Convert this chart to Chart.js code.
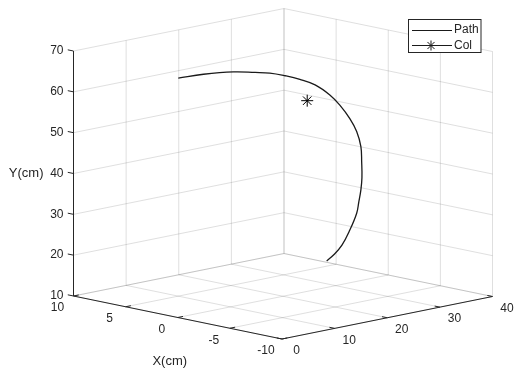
<!DOCTYPE html>
<html>
<head>
<meta charset="utf-8">
<script src="https://cdn.jsdelivr.net/npm/chart.js@4"></script>
<style>
  html, body { margin: 0; padding: 0; background: #fff; }
  #wrap { width: 516px; height: 371px; position: relative; }
</style>
</head>
<body>
<div id="wrap"><canvas id="graph"></canvas></div>
<script>
// axis ticks
const xTicks = [10, 5, 0, -5, -10];
const yTicks = [10, 20, 30, 40, 50, 60, 70];
const zTicks = [0, 10, 20, 30, 40];

// path (cm)
const pathX = [0, 0, 0, 0, 0, 0, 0, 0, 0, 0, 0, 0, 0, 0, 0, 0, 0, 0, 0, 0, 0, 0];
const pathZ = [0.1, 4.9, 10.6, 14.7, 17.5, 20.4, 23.2, 26.1, 28.9, 30.8, 32.7, 34.0, 34.8, 34.95, 35.0, 34.8, 34.4, 34.0, 32.7, 31.2, 29.6, 28.3];
const pathY = [68.6, 68.3, 67.4, 66.2, 65.3, 63.9, 62.3, 60.2, 57.0, 54.0, 50.2, 46.7, 42.8, 39.0, 35.1, 32.2, 29.3, 26.7, 22.9, 19.6, 17.6, 16.5];

// collision point
const colX = [0];
const colY = [56.7];
const colZ = [24.6];

// view of the 3d box (orthographic)
function proj(X, Y, Z) {
    return {
        x: 73.5 + (10 - X) * 10.425 + Z * 5.2625,
        y: 296 + (10 - X) * 2.15 - Z * 1.0625 - (Y - 10) * 4.083
    };
}

const axisColor = '#262626';
const gridColor = 'rgba(38,38,38,0.15)';
const font = '"Liberation Sans", Arial, sans-serif';

const box3d = {
    id: 'box3d',
    beforeDatasetsDraw(chart) {
        const ctx = chart.ctx;
        const sx = chart.scales.x, sy = chart.scales.y;
        const pix = (X, Y, Z) => {
            const p = proj(X, Y, Z);
            return [sx.getPixelForValue(p.x), sy.getPixelForValue(p.y)];
        };
        const seg = (a, b) => {
            const p = pix(...a), q = pix(...b);
            ctx.beginPath();
            ctx.moveTo(p[0], p[1]);
            ctx.lineTo(q[0], q[1]);
            ctx.stroke();
        };
        ctx.save();
        ctx.strokeStyle = gridColor;
        ctx.lineWidth = 1;
        // back left wall (X = 10)
        zTicks.forEach(z => seg([10, 10, z], [10, 70, z]));
        yTicks.forEach(y => seg([10, y, 0], [10, y, 40]));
        // back right wall (Z = 40)
        xTicks.forEach(x => seg([x, 10, 40], [x, 70, 40]));
        yTicks.forEach(y => seg([10, y, 40], [-10, y, 40]));
        // floor
        xTicks.forEach(x => seg([x, 10, 0], [x, 10, 40]));
        zTicks.forEach(z => seg([10, 10, z], [-10, 10, z]));

        // axes
        ctx.strokeStyle = axisColor;
        seg([10, 10, 0], [10, 70, 0]);
        seg([10, 10, 0], [-10, 10, 0]);
        seg([-10, 10, 0], [-10, 10, 40]);
        // tick marks
        yTicks.forEach(y => seg([10, y, 0], [10.55, y, 0]));
        xTicks.forEach(x => seg([x, 10, 0], [x, 10, 1]));
        zTicks.forEach(z => seg([-10, 10, z], [-9.5, 10, z]));

        // tick labels
        ctx.fillStyle = axisColor;
        ctx.font = '12px ' + font;
        ctx.textBaseline = 'middle';
        ctx.textAlign = 'right';
        yTicks.forEach(y => {
            const p = pix(10, y, 0);
            ctx.fillText(String(y), p[0] - 10, p[1]);
        });
        ctx.textAlign = 'center';
        xTicks.forEach(x => {
            const p = pix(x, 10, 0);
            ctx.fillText(String(x), p[0] - 16, p[1] + 12);
        });
        zTicks.forEach(z => {
            const p = pix(-10, 10, z);
            ctx.fillText(String(z), p[0] + 14.5, p[1] + 12);
        });

        // axis titles
        ctx.font = '13px ' + font;
        let p = pix(0, 10, 0);
        ctx.fillText('X(cm)', p[0] - 8, p[1] + 44);
        p = pix(-10, 10, 20);
        ctx.fillText('Z(cm)', p[0] + 3, p[1] + 66);
        p = pix(10, 40, 0);
        ctx.textAlign = 'right';
        ctx.fillText('Y(cm)', p[0] - 30, p[1]);
        ctx.restore();
    },
    afterDraw(chart) {
        // legend, top right
        const ctx = chart.ctx;
        const ds = chart.data.datasets;
        ctx.save();
        ctx.fillStyle = '#fff';
        ctx.fillRect(408.5, 19.5, 72.5, 33);
        ctx.strokeStyle = axisColor;
        ctx.lineWidth = 1;
        ctx.strokeRect(408.5, 19.5, 72.5, 33);

        ctx.strokeStyle = ds[0].borderColor;
        ctx.lineWidth = 1.2;
        ctx.beginPath();
        ctx.moveTo(412, 30.5);
        ctx.lineTo(452, 30.5);
        ctx.stroke();
        ctx.beginPath();
        ctx.moveTo(412, 45.5);
        ctx.lineTo(452, 45.5);
        ctx.stroke();
        // asterisk
        ctx.lineWidth = 1;
        const cx = 431, cy = 45.5, r = 5;
        ctx.beginPath();
        for (let a = 0; a < 4; a++) {
            const t = a * Math.PI / 4;
            ctx.moveTo(cx - r * Math.cos(t), cy - r * Math.sin(t));
            ctx.lineTo(cx + r * Math.cos(t), cy + r * Math.sin(t));
        }
        ctx.stroke();

        ctx.fillStyle = axisColor;
        ctx.font = '12px ' + font;
        ctx.textAlign = 'left';
        ctx.textBaseline = 'middle';
        ctx.fillText(ds[0].label, 454, 30);
        ctx.fillText(ds[1].label, 454, 46);
        ctx.restore();
    }
};

const config = {
    type: 'scatter',
    data: {
        datasets: [
            {
                label: 'Path',
                data: pathX.map((x, i) => proj(x, pathY[i], pathZ[i])),
                showLine: true,
                borderColor: '#1a1a1a',
                borderWidth: 1.3,
                pointRadius: 0,
                tension: 0.4
            },
            {
                label: 'Col',
                data: colX.map((x, i) => proj(x, colY[i], colZ[i])),
                pointStyle: 'star',
                pointRadius: 6,
                borderColor: '#000',
                borderWidth: 1,
                backgroundColor: '#000'
            }
        ]
    },
    options: {
        responsive: true,
        maintainAspectRatio: false,
        animation: false,
        devicePixelRatio: 1,
        layout: { padding: 0, autoPadding: false },
        scales: {
            x: { type: 'linear', min: 0, max: 516, display: false },
            y: { type: 'linear', min: 0, max: 371, reverse: true, display: false }
        },
        plugins: {
            legend: { display: false },
            tooltip: { enabled: false }
        }
    },
    plugins: [box3d]
};

const myChart = new Chart(document.getElementById('graph'), config);
</script>
</body>
</html>
